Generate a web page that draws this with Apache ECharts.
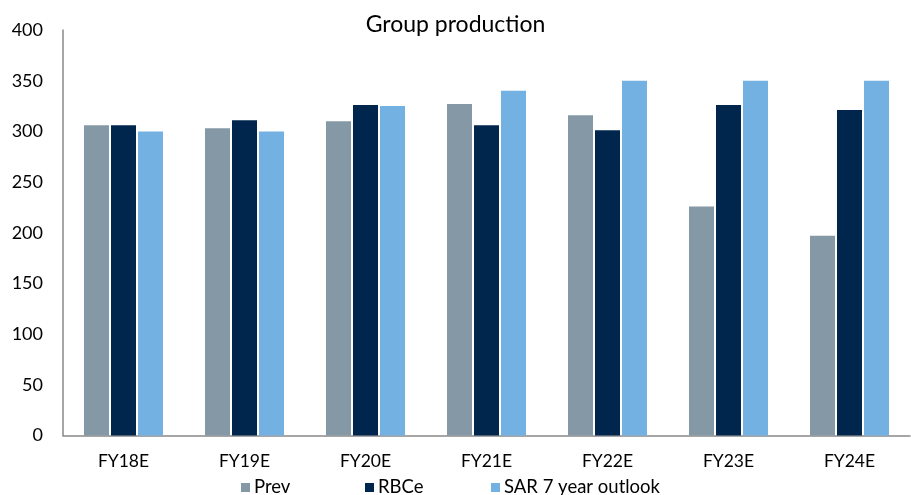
<!DOCTYPE html>
<html>
<head>
<meta charset="utf-8">
<script src="https://cdn.jsdelivr.net/npm/echarts@6/dist/echarts.min.js"></script>
<style>
  html, body { margin: 0; padding: 0; background: #fff; }
  #chart { width: 911px; height: 495px; }
</style>
</head>
<body>
<div id="chart"></div>
<script>
const categories = ['FY18E', 'FY19E', 'FY20E', 'FY21E', 'FY22E', 'FY23E', 'FY24E'];
const prevValues = [306, 303, 310, 327, 316, 226, 197];
const rbceValues = [306, 311, 326, 306, 301, 326, 321];
const sarValues = [300, 300, 325, 340, 350, 350, 350];
const yTicks = [0, 50, 100, 150, 200, 250, 300, 350, 400];

const FONT = 'Lato, "Open Sans", sans-serif';
const colors = { prev: '#8598A5', rbce: '#00264D', sar: '#74B1E3' };

const chart = echarts.init(document.getElementById('chart'), null, { renderer: 'canvas' });

function barSeries(name, data, color) {
  return {
    name: name,
    type: 'bar',
    data: data,
    barWidth: 25,
    barGap: '8%',
    itemStyle: { color: color },
    emphasis: { disabled: true }
  };
}

function legendAt(name, left) {
  return {
    data: [name],
    left: left,
    top: 473,
    itemWidth: 9,
    itemHeight: 9,
    icon: 'rect',
    textStyle: { fontFamily: FONT, fontSize: 18.5, color: '#000', padding: [0, 0, 0, -1] },
    selectedMode: false
  };
}

chart.setOption({
  animation: false,
  title: {
    text: 'Group production',
    left: 'center',
    top: 8,
    textStyle: { fontFamily: FONT, fontSize: 23, fontWeight: 'normal', color: '#000' }
  },
  legend: [
    legendAt('Prev', 236),
    legendAt('RBCe', 360),
    legendAt('SAR 7 year outlook', 486)
  ],
  grid: { left: 63, right: 1, top: 30, bottom: 59.5, containLabel: false },
  xAxis: {
    type: 'category',
    data: categories,
    axisLine: { lineStyle: { color: '#898989', width: 1.5 } },
    axisTick: { show: false },
    axisLabel: { fontFamily: FONT, fontSize: 17.5, color: '#000', margin: 17 }
  },
  yAxis: {
    type: 'value',
    min: yTicks[0],
    max: yTicks[yTicks.length - 1],
    interval: 50,
    axisLine: { show: true, lineStyle: { color: '#898989', width: 1.5 } },
    axisTick: { show: false },
    splitLine: { show: false },
    axisLabel: { fontFamily: FONT, fontSize: 18, color: '#000', margin: 20 }
  },
  series: [
    barSeries('Prev', prevValues, colors.prev),
    barSeries('RBCe', rbceValues, colors.rbce),
    barSeries('SAR 7 year outlook', sarValues, colors.sar)
  ]
});
</script>
</body>
</html>
